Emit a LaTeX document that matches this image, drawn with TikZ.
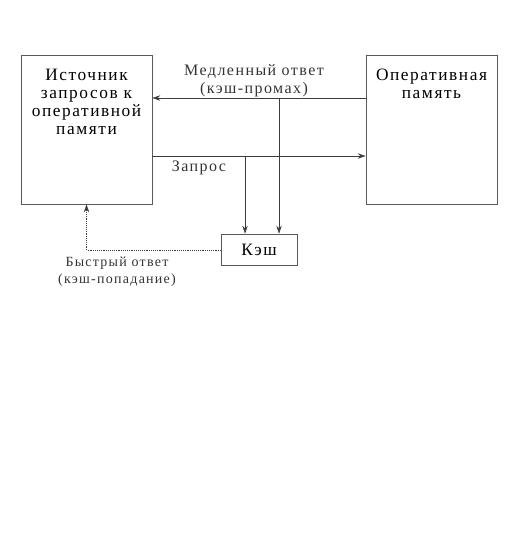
\documentclass[tikz,border=0pt]{standalone}
\usepackage{fontspec}
\setmainfont{Liberation Serif}
\usetikzlibrary{positioning, arrows.meta, calc}
\definecolor{LineGray}{RGB}{60,60,60}
\definecolor{BoxGray}{RGB}{90,90,90}
\newfontfamily\spacedfont[LetterSpace=9]{Liberation Serif}

\begin{document}
\begin{tikzpicture}[
            x=0.75pt, y=-0.75pt,
            box/.style={rectangle, draw=BoxGray, thin,
                        inner sep=0pt, align=center},
            boxtext/.style={anchor=north, align=center,
                            font=\spacedfont\fontsize{13}{13.5}\selectfont},
            lbl/.style={align=center, font=\spacedfont\fontsize{12}{13.5}\selectfont,
                        text=black!80},
            arr/.style={-{Stealth[length=6pt, width=4pt]}, LineGray, thin}
          ]
          \useasboundingbox (0,0) rectangle (527,553);

          % Boxes
          \node[box, minimum width=131*0.75pt, minimum height=149*0.75pt]
                (src) at (86.5,129.5) {};
          \node[boxtext, below=7pt of src.north] (srctext)
                {Источник\\запросов к\\оперативной\\памяти};
          \node[box, minimum width=131*0.75pt, minimum height=149*0.75pt]
                (ram) at (431.5,129.5) {};
          \node[boxtext, below=7pt of ram.north] (ramtext)
                {Оперативная\\память};
          \node[box, minimum width=76*0.75pt, minimum height=31*0.75pt,
                font=\spacedfont\fontsize{13}{13.5}\selectfont]
                (cache) at (259,249.5) {Кэш};

          % Branch points
          \coordinate (slowsplit) at (279,98);
          \coordinate (reqsplit)  at (245,156);
          \coordinate (fastbend)  at (86.5,250);

          % Slow reply (cache miss)
          \draw[arr] (ram.west |- slowsplit) -- (src.east |- slowsplit);
          \draw[arr] (slowsplit) -- (slowsplit |- cache.north);
          \node[lbl] (slowlbl) at (254,81) {Медленный ответ\\(кэш-промах)};

          % Request
          \draw[arr] (src.east |- reqsplit) -- (ram.west |- reqsplit);
          \draw[arr] (reqsplit) -- (reqsplit |- cache.north);
          \node[lbl] (reqlbl) at (199,168) {Запрос};

          % Fast reply (cache hit)
          \draw[arr, densely dotted] (cache.west |- fastbend) -- (fastbend) -- (src.south);
          \node[lbl, font=\spacedfont\fontsize{10.5}{13}\selectfont] (fastlbl) at (117,272)
                {Быстрый ответ\\(кэш-попадание)};
        \end{tikzpicture}
\end{document}
